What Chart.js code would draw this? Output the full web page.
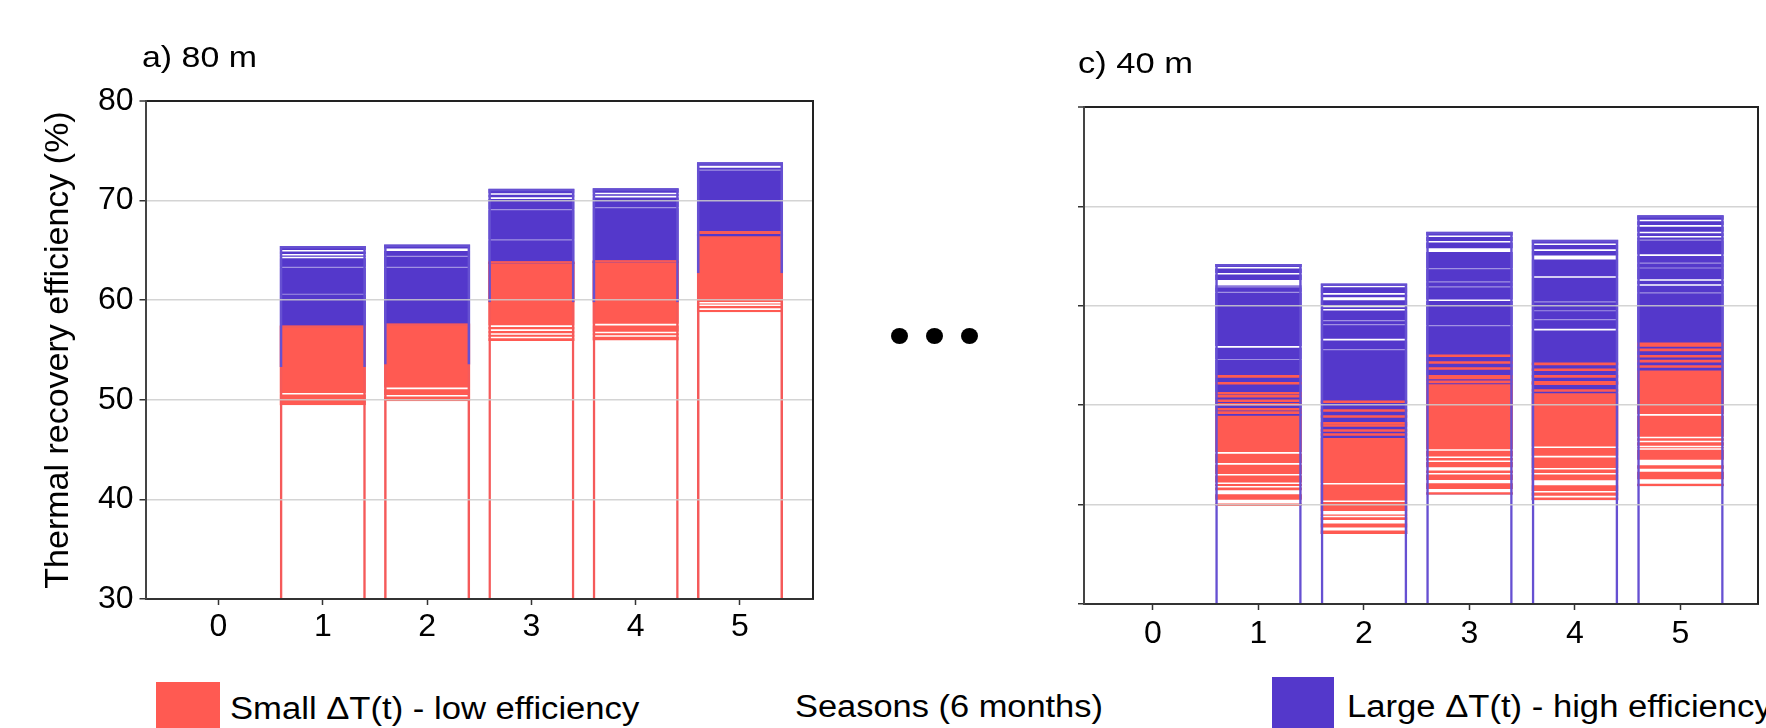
<!DOCTYPE html>
<html>
<head>
<meta charset="utf-8">
<script src="https://cdn.jsdelivr.net/npm/chart.js@4.4.1/dist/chart.umd.min.js"></script>
<style>
html,body{margin:0;padding:0;background:#fff;}
body{width:1766px;height:728px;overflow:hidden;position:relative;font-family:"Liberation Sans",Arial,sans-serif;color:#000;}
.cv{position:absolute;top:0;}
.txt{position:absolute;white-space:nowrap;line-height:1;transform-origin:0 0;}
.sq{position:absolute;}
.dot{position:absolute;width:17px;height:16px;border-radius:50%;background:#000;}
</style>
</head>
<body>
<div class="cv" style="left:0;width:840px;height:650px"><canvas id="ca" width="840" height="650"></canvas></div>
<div class="cv" style="left:940px;width:826px;height:650px"><canvas id="cc" width="826" height="650"></canvas></div>

<div class="txt" style="left:141.7px;top:41.9px;font-size:30px;transform:scaleX(1.13)">a) 80 m</div>
<div class="txt" style="left:1078px;top:47.9px;font-size:30px;transform:scaleX(1.15)">c) 40 m</div>

<div class="dot" style="left:890.5px;top:328px"></div>
<div class="dot" style="left:925.5px;top:328px"></div>
<div class="dot" style="left:960.5px;top:328px"></div>

<div class="sq" style="left:156px;top:682px;width:64px;height:60px;background:#FF5A52"></div>
<div class="txt" style="left:230px;top:693.1px;font-size:31px;transform:scaleX(1.117)">Small ΔT(t) - low efficiency</div>
<div class="txt" style="left:795px;top:690.5px;font-size:31px;transform:scaleX(1.11)">Seasons (6 months)</div>
<div class="sq" style="left:1272px;top:677px;width:62px;height:60px;background:#5438CB"></div>
<div class="txt" style="left:1347px;top:690.5px;font-size:31px;transform:scaleX(1.117)">Large ΔT(t) - high efficiency</div>

<script>
// ---------- data ----------
const seasonTicks = [0, 1, 2, 3, 4, 5];
const seasons = [1, 2, 3, 4, 5];
const yTicks = [30, 40, 50, 60, 70, 80];

// a) 80 m
const a_top      = [65.45, 65.6, 71.2, 71.25, 73.85];
const a_blueLow  = [53.3, 53.55, 59.8, 59.8, 62.7];
const a_redTop   = [57.45, 57.65, 63.9, 64.0, 66.95];
const a_min      = [49.45, 49.85, 55.9, 55.95, 58.8];
const a_white    = [[64.96, 64.56, 64.29], [[64.95, 65.2]], [70.67, 70.25], [70.72, 70.4], [[73.3, 73.5]]];
const a_faint    = [[63.3, 60.6], [64.4, 63.3], [69.1, 66.05], [69.3], [73.05]];
const a_whiteRed = [[50.6], [51.15, 50.4], [57.4, 57.0, 56.6, 56.25], [57.55, 56.75, 56.4], [59.75, 59.5, 59.1]];
const a_blueInRed = [[], [], [63.72], [63.82], [[66.42, 66.65]]];
const a_redInBlue = [[], [], [], [], []];

// c) 40 m
const c_top      = [64.2, 62.25, 67.45, 66.65, 69.1];
const c_redTop   = [48.95, 46.7, 52.1, 51.2, 53.5];
const c_min      = [39.85, 37.05, 41.0, 40.45, 41.85];
const c_white = [
  [63.83, 63.22, [62.05, 62.6], 55.87],
  [61.95, 61.2, [60.55, 60.85], 59.93, 59.6, 56.6],
  [66.99, 66.45, [65.4, 65.8], 60.56],
  [66.2, 65.6, [64.65, 65.05], 62.9, 57.6],
  [68.58, 68.04, 67.37, 66.95, 65.1, 62.6, 62.1]
];
const c_faint = [
  [61.9, 61.35, 54.6],
  [58.5, 58.1, 55.6],
  [63.74, 62.4, 61.9, 58.0],
  [60.4, 59.5, 58.6],
  [66.6, 64.3, 63.8, 61.3]
];
const c_redInBlue = [
  [52.9, 52.2, 51.2, 50.9, 50.45, 50.1, 49.6, 49.25],
  [50.34, 49.46, 48.86, 48.19, 47.95, 47.45, 47.05],
  [54.97, 54.3, 53.7, 52.9, 52.75, 52.35],
  [54.16, 53.56, 52.9, 52.3, 52.15, 51.48],
  [56.17, 56.0, 55.57, 54.93, 54.43, 53.9]
];
const c_whiteRed = [
  [45.2, 44.1, 43.0, 42.15, 41.8, [41.05, 41.45], [40.1, 40.5]],
  [42.1, 40.33, [39.0, 39.35], 38.8, [38.1, 38.45], [37.4, 37.7]],
  [45.5, 44.77, 44.36, [43.42, 43.76], 43.1, [42.15, 42.48], [41.24, 41.57]],
  [45.77, 44.83, 43.6, 43.1, [41.95, 42.45], 41.3, 40.8],
  [49.03, 46.75, 46.35, 45.85, 45.6, [43.95, 44.5], [43.3, 43.6], [42.1, 42.55]]
];
const c_blueInRed = [[], [], [], [], []];

// ---------- styles ----------
const RED = '#FF5A52', BLUE = '#5438CB';
const FONT = '"Liberation Sans", Arial, sans-serif';

function toRange(v, h) { return Array.isArray(v) ? v : [v - h, v + h]; }
function linePts(lists, h) {
  const out = [];
  lists.forEach((arr, i) => arr.forEach(v => out.push({ x: seasons[i], y: toRange(v, h) })));
  return out;
}
function rangePts(lo, hi) {
  return seasons.map((s, i) => ({ x: s, y: [Array.isArray(lo) ? lo[i] : lo, hi[i]] }));
}

function makeDatasets(p, barPct) {
  const base = yTicks[0];
  const common = { grouped: false, barPercentage: barPct, categoryPercentage: 1, borderWidth: 0, borderSkipped: 'start' };
  const ds = [
    { data: rangePts(p.blueLow, p.top), backgroundColor: BLUE, order: 9 },
    { data: rangePts(p.min, p.redTop), backgroundColor: RED, order: 8 },
    { data: linePts(p.redInBlue, 0.13), backgroundColor: RED, order: 7 },
    { data: linePts(p.blueInRed, 0.09), backgroundColor: BLUE, order: 6 },
    { data: linePts(p.white, 0.08), backgroundColor: '#ffffff', order: 5 },
    { data: linePts(p.faint, 0.06), backgroundColor: 'rgba(255,255,255,0.45)', order: 4 },
    { data: linePts(p.whiteRed, 0.08), backgroundColor: '#ffffff', order: 3 },
    { data: rangePts(base, p.min), backgroundColor: '#ffffff', order: 2 }
  ];
  if (p.redOutline) {
    ds.push({ data: rangePts(base, p.redTop), backgroundColor: 'rgba(0,0,0,0)', borderColor: '#F55A5A', borderWidth: 2.5, order: 1 });
    ds.push({ data: rangePts(p.blueLow, p.top), backgroundColor: 'rgba(0,0,0,0)', borderColor: '#6650D2', borderWidth: 2.5, order: 0 });
  } else {
    ds.push({ data: rangePts(base, p.top), backgroundColor: 'rgba(0,0,0,0)', borderColor: '#6650D2', borderWidth: 2.5, order: 0 });
  }
  return ds.map(d => Object.assign({}, common, d));
}

const framePlugin = {
  id: 'frame',
  afterDraw(ch) {
    const { ctx, chartArea: a } = ch;
    ctx.save();
    ctx.strokeStyle = '#222';
    ctx.lineWidth = 2;
    ctx.beginPath();
    ctx.moveTo(a.right, a.top - 1);
    ctx.lineTo(a.right, a.bottom);
    ctx.stroke();
    ctx.restore();
  }
};

function makeChart(id, datasets, o) {
  const yMin = yTicks[0], yMax = yTicks[yTicks.length - 1];
  return new Chart(document.getElementById(id), {
    type: 'bar',
    data: { datasets },
    plugins: [framePlugin],
    options: {
      responsive: false,
      animation: false,
      events: [],
      layout: { padding: { top: o.padTop, right: o.padRight, left: 0, bottom: 0 } },
      plugins: { legend: { display: false }, tooltip: { enabled: false } },
      scales: {
        x: {
          type: 'linear',
          offset: false,
          min: o.xMin, max: o.xMax,
          afterBuildTicks: s => { s.ticks = seasonTicks.map(v => ({ value: v })); },
          afterFit: s => { s.height = o.xHeight; },
          grid: { offset: false, drawOnChartArea: false, drawTicks: true, tickLength: 6, tickColor: '#333', tickWidth: 1.5, z: 1 },
          border: { color: '#333', width: 2, z: 2 },
          ticks: { z: 2, padding: o.xPad, color: '#000', font: { family: FONT, size: 32 }, callback: v => String(v), maxRotation: 0 }
        },
        y: {
          min: yMin, max: yMax,
          afterBuildTicks: s => { s.ticks = yTicks.map(v => ({ value: v })); },
          afterFit: s => { s.width = o.yWidth; },
          grid: {
            z: 1,
            color: c => c.tick.value === yMax ? '#222' : (c.tick.value === yMin ? 'rgba(0,0,0,0)' : 'rgba(205,205,205,0.85)'),
            lineWidth: c => c.tick.value === yMax ? 2 : 1.5,
            tickLength: 6, tickColor: '#333', tickWidth: 1.5
          },
          border: { color: '#444', width: 2, z: 2 },
          ticks: { z: 2, padding: 6, color: '#000', font: { family: FONT, size: 32 },
                   callback: v => o.showYLabels ? String(v) : '' },
          title: o.yTitle ? { display: true, text: o.yTitle, color: '#000', font: { family: FONT, size: 34 }, padding: { top: 38, bottom: 0 } } : { display: false }
        }
      }
    }
  });
}

makeChart('ca', makeDatasets({
  top: a_top, blueLow: a_blueLow, redTop: a_redTop, min: a_min,
  white: a_white, faint: a_faint, whiteRed: a_whiteRed, blueInRed: a_blueInRed, redInBlue: a_redInBlue,
  redOutline: true
}, 0.825), {
  padTop: 101, padRight: 27, xHeight: 51, xPad: 3, yWidth: 145.5, xMin: -0.7, xMax: 5.7,
  showYLabels: true, yTitle: 'Thermal recovery efficiency (%)'
});

makeChart('cc', makeDatasets({
  top: c_top, blueLow: c_min, redTop: c_redTop, min: c_min,
  white: c_white, faint: c_faint, whiteRed: c_whiteRed, blueInRed: c_blueInRed, redInBlue: c_redInBlue,
  redOutline: false
}, 0.82), {
  padTop: 107, padRight: 8, xHeight: 46, xPad: 5, yWidth: 144, xMin: -0.654, xMax: 5.735,
  showYLabels: false, yTitle: null
});
</script>
</body>
</html>
